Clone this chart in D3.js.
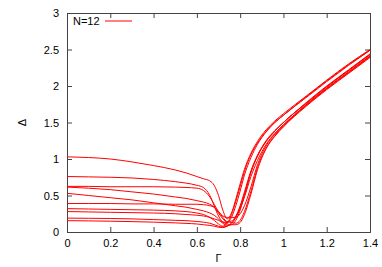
<!DOCTYPE html>
<html>
<head>
<meta charset="utf-8">
<script src="https://cdn.jsdelivr.net/npm/d3@7"></script>
<style>
    body { margin: 0; background: #fff; }
    text { font-family: "Liberation Sans", Arial, sans-serif; }
</style>
</head>
<body>
<div id="chart"></div>
<script>
// gap vs coupling, shared Gamma grid for every curve
var gamma = [0, 0.1, 0.2, 0.3, 0.4, 0.5, 0.55, 0.6, 0.63, 0.66, 0.68, 0.7, 0.72, 0.74, 0.76, 0.78, 0.8, 0.82, 0.85, 0.88, 0.92, 0.96, 1.0, 1.1, 1.2, 1.3, 1.4];

var curveA = [1.03, 1.02, 1.0, 0.96, 0.91, 0.85, 0.81, 0.76, 0.73, 0.70, 0.64, 0.5, 0.3, 0.18, 0.26, 0.45, 0.66, 0.86, 1.08, 1.24, 1.4, 1.52, 1.62, 1.85, 2.08, 2.3, 2.5];
var curveB = [0.76, 0.755, 0.75, 0.74, 0.72, 0.69, 0.67, 0.64, 0.61, 0.5, 0.36, 0.22, 0.14, 0.13, 0.2, 0.36, 0.56, 0.78, 1.02, 1.2, 1.37, 1.5, 1.6, 1.83, 2.06, 2.28, 2.49];
var curveC = [0.625, 0.625, 0.62, 0.62, 0.62, 0.615, 0.61, 0.6, 0.57, 0.48, 0.38, 0.28, 0.22, 0.2, 0.2, 0.2, 0.25, 0.36, 0.62, 0.92, 1.18, 1.34, 1.46, 1.73, 1.97, 2.19, 2.41];
var curveD = [0.615, 0.6, 0.58, 0.55, 0.52, 0.48, 0.46, 0.43, 0.41, 0.38, 0.34, 0.26, 0.18, 0.14, 0.15, 0.22, 0.36, 0.55, 0.84, 1.05, 1.25, 1.39, 1.5, 1.76, 2.0, 2.22, 2.44];
var curveE = [0.53, 0.5, 0.47, 0.44, 0.4, 0.36, 0.34, 0.31, 0.29, 0.26, 0.23, 0.18, 0.12, 0.09, 0.1, 0.16, 0.3, 0.5, 0.82, 1.04, 1.24, 1.38, 1.5, 1.75, 1.99, 2.21, 2.43];
var curveF = [0.39, 0.39, 0.39, 0.385, 0.385, 0.38, 0.38, 0.38, 0.375, 0.36, 0.34, 0.28, 0.2, 0.14, 0.13, 0.12, 0.16, 0.28, 0.56, 0.88, 1.15, 1.32, 1.45, 1.72, 1.96, 2.18, 2.4];
var curveG = [0.32, 0.315, 0.31, 0.305, 0.3, 0.29, 0.28, 0.26, 0.24, 0.2, 0.16, 0.11, 0.08, 0.12, 0.24, 0.42, 0.62, 0.83, 1.06, 1.22, 1.38, 1.5, 1.6, 1.84, 2.07, 2.29, 2.49];
var curveH = [0.28, 0.275, 0.27, 0.265, 0.26, 0.25, 0.24, 0.23, 0.22, 0.2, 0.18, 0.16, 0.13, 0.11, 0.1, 0.1, 0.13, 0.24, 0.52, 0.85, 1.14, 1.31, 1.44, 1.71, 1.95, 2.17, 2.39];
var curveI = [0.19, 0.188, 0.185, 0.18, 0.17, 0.16, 0.155, 0.145, 0.135, 0.12, 0.1, 0.08, 0.07, 0.08, 0.12, 0.2, 0.34, 0.52, 0.82, 1.04, 1.24, 1.38, 1.5, 1.75, 1.99, 2.21, 2.43];
var curveJ = [0.155, 0.152, 0.148, 0.142, 0.135, 0.125, 0.118, 0.11, 0.1, 0.09, 0.08, 0.065, 0.06, 0.08, 0.12, 0.2, 0.32, 0.48, 0.76, 0.98, 1.2, 1.35, 1.47, 1.73, 1.97, 2.19, 2.41];

var xTicks = [0, 0.2, 0.4, 0.6, 0.8, 1, 1.2, 1.4];
var yTicks = [0, 0.5, 1, 1.5, 2, 2.5, 3];
var legendLabel = "N=12";

function init() {
    var W = 382, H = 267;
    var left = 67, right = 370, top = 13, bottom = 232;

    var svg = d3.select("#chart")
        .append("svg")
        .attr("width", W)
        .attr("height", H);

    var xScale = d3.scaleLinear().domain([0, 1.4]).range([left, right]);
    var yScale = d3.scaleLinear().domain([0, 3]).range([bottom, top]);

    var tickLen = 5;
    var axisColor = "#444";

    // bottom + top axes (ticks pointing inward)
    var xb = svg.append("g")
        .attr("transform", `translate(0, ${bottom})`)
        .call(d3.axisBottom(xScale).tickValues(xTicks).tickSize(-tickLen).tickPadding(7).tickFormat(d3.format("")));
    var xt = svg.append("g")
        .attr("transform", `translate(0, ${top})`)
        .call(d3.axisTop(xScale).tickValues(xTicks).tickSize(-tickLen).tickFormat(""));

    // left + right axes
    var yl = svg.append("g")
        .attr("transform", `translate(${left}, 0)`)
        .call(d3.axisLeft(yScale).tickValues(yTicks).tickSize(-tickLen).tickPadding(8).tickFormat(d3.format("")));
    var yr = svg.append("g")
        .attr("transform", `translate(${right}, 0)`)
        .call(d3.axisRight(yScale).tickValues(yTicks).tickSize(-tickLen).tickFormat(""));

    [xb, xt, yl, yr].forEach(g => {
        g.select(".domain").attr("stroke", axisColor);
        g.selectAll(".tick line").attr("stroke", axisColor);
        g.selectAll("text")
            .attr("fill", "#000")
            .style("font-family", "'Liberation Sans', Arial, sans-serif")
            .style("font-size", "11px");
    });

    // axis labels
    svg.append("text")
        .attr("x", (left + right) / 2)
        .attr("y", 262)
        .attr("text-anchor", "middle")
        .style("font-size", "11px")
        .text("Γ");

    svg.append("text")
        .attr("transform", `translate(26, ${(top + bottom) / 2}) rotate(-90)`)
        .attr("text-anchor", "middle")
        .style("font-size", "11px")
        .text("Δ");

    // curves
    var series = [curveA, curveB, curveC, curveD, curveE, curveF, curveG, curveH, curveI, curveJ];
    var line = d3.line()
        .x((d, i) => xScale(gamma[i]))
        .y(d => yScale(d))
        .curve(d3.curveMonotoneX);

    svg.append("g")
        .selectAll("path")
        .data(series)
        .enter()
        .append("path")
        .attr("d", line)
        .attr("fill", "none")
        .attr("stroke", "#ff0000")
        .attr("stroke-width", 1);

    // key
    svg.append("text")
        .attr("x", 73)
        .attr("y", 25)
        .style("font-size", "11px")
        .text(legendLabel);
    svg.append("line")
        .attr("x1", 105).attr("x2", 132)
        .attr("y1", 21).attr("y2", 21)
        .attr("stroke", "#ff0000")
        .attr("stroke-width", 1);
}

window.onload = init;
</script>
</body>
</html>
